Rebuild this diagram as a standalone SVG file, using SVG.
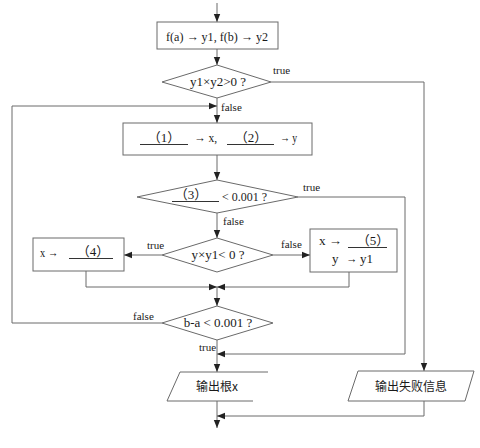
<svg xmlns="http://www.w3.org/2000/svg" width="480" height="448" viewBox="0 0 480 448">
<style>
.s{fill:none;stroke:#6a6a6a;stroke-width:1}
.n{fill:#fff;stroke:#6a6a6a;stroke-width:1}
.t{font-family:"Liberation Serif","Noto Sans CJK SC",serif;font-size:13px;fill:#1a1a1a}
.l{font-family:"Liberation Serif",serif;font-size:11px;fill:#1a1a1a}
.c{font-family:"Noto Sans CJK SC",sans-serif;font-size:12px;fill:#1a1a1a}
.u{stroke:#333;stroke-width:1}
</style>
<defs>
<marker id="a" markerUnits="userSpaceOnUse" markerWidth="8" markerHeight="8" viewBox="0 0 8 8" refX="8" refY="4" orient="auto">
<path d="M0,0.8 L8,4 L0,7.2 Z" fill="#222"/>
</marker>
</defs>
<rect width="480" height="448" fill="#fff"/>
<g id="connectors">
<path class="s" d="M217,3 V22" marker-end="url(#a)"/>
<path class="s" d="M217,49 V65" marker-end="url(#a)"/>
<path class="s" d="M271,82 H424 V371" marker-end="url(#a)"/>
<path class="s" d="M217,98 V123" marker-end="url(#a)"/>
<path class="s" d="M162,323 H12 V106 H217" marker-end="url(#a)"/>
<path class="s" d="M217,155 V180" marker-end="url(#a)"/>
<path class="s" d="M298,197 H405 V354 H217" marker-end="url(#a)"/>
<path class="s" d="M217,213 V238" marker-end="url(#a)"/>
<path class="s" d="M162,255 H124" marker-end="url(#a)"/>
<path class="s" d="M273,255 H310" marker-end="url(#a)"/>
<path class="s" d="M86,271 V287 H217" marker-end="url(#a)"/>
<path class="s" d="M349,272 V287 H217" marker-end="url(#a)"/>
<path class="s" d="M217,287 V306" marker-end="url(#a)"/>
<path class="s" d="M217,340 V372" marker-end="url(#a)"/>
<path class="s" d="M217,401 V428" marker-end="url(#a)"/>
<path class="s" d="M424,401 V416 H217" marker-end="url(#a)"/>
<text class="l" x="273" y="74">true</text>
<text class="l" x="221" y="111">false</text>
<text class="l" x="303" y="191">true</text>
<text class="l" x="223" y="225">false</text>
<text class="l" x="147" y="249">true</text>
<text class="l" x="281" y="248">false</text>
<text class="l" x="133" y="320">false</text>
<text class="l" x="199" y="351">true</text>
</g>
<g id="init">
<rect class="n" x="157" y="22" width="121" height="27"/>
<text class="t" x="166" y="41" textLength="102" lengthAdjust="spacingAndGlyphs">f(a) → y1,  f(b) → y2</text>
</g>
<g id="check1">
<polygon class="n" points="217,65 271,82 217,98 162,82"/>
<text class="t" x="218" y="86" text-anchor="middle">y1×y2&gt;0 ?</text>
</g>
<g id="assign">
<rect class="n" x="123" y="123" width="189" height="32"/>
<text class="t" x="164" y="142" text-anchor="middle">（1）</text>
<line class="u" x1="140" y1="144.5" x2="188" y2="144.5"/>
<text class="t" x="194" y="142" textLength="23" lengthAdjust="spacingAndGlyphs">→ x,</text>
<text class="t" x="251" y="142" text-anchor="middle">（2）</text>
<line class="u" x1="227" y1="144.5" x2="274" y2="144.5"/>
<text class="t" x="280" y="142" textLength="17" lengthAdjust="spacingAndGlyphs">→ y</text>
</g>
<g id="check2">
<polygon class="n" points="217,180 298,197 217,213 137,197"/>
<text class="t" x="191" y="199" text-anchor="middle">（3）</text>
<line class="u" x1="172" y1="201.5" x2="219" y2="201.5"/>
<text class="t" x="222" y="201" textLength="45" lengthAdjust="spacingAndGlyphs">&lt; 0.001 ?</text>
</g>
<g id="check3">
<polygon class="n" points="217,238 273,255 217,272 162,255"/>
<text class="t" x="218" y="259" text-anchor="middle">y×y1&lt; 0 ?</text>
</g>
<g id="box4">
<rect class="n" x="33" y="238" width="91" height="33"/>
<text class="t" x="40" y="257" textLength="18" lengthAdjust="spacingAndGlyphs">x →</text>
<text class="t" x="93" y="256" text-anchor="middle">（4）</text>
<line class="u" x1="69" y1="258.5" x2="113" y2="258.5"/>
</g>
<g id="box5">
<rect class="n" x="310" y="229" width="87" height="43"/>
<text class="t" x="319" y="245" textLength="23" lengthAdjust="spacingAndGlyphs">x →</text>
<text class="t" x="373" y="245" text-anchor="middle">（5）</text>
<line class="u" x1="348" y1="247.5" x2="387" y2="247.5"/>
<text class="t" x="332" y="263">y</text>
<text class="t" x="346" y="263" textLength="11" lengthAdjust="spacingAndGlyphs">→</text>
<text class="t" x="360" y="263">y1</text>
</g>
<g id="check4">
<polygon class="n" points="217,306 273,323 217,340 162,323"/>
<text class="t" x="218" y="327" text-anchor="middle">b-a &lt; 0.001 ?</text>
</g>
<g id="out-root">
<path class="n" d="M268,372 H180 L167,401 H253"/>
<text class="c" x="217" y="391" text-anchor="middle">输出根x</text>
</g>
<g id="out-fail">
<polygon class="n" points="358,371 474,371 465,401 348,401"/>
<text class="c" x="411" y="391" text-anchor="middle">输出失败信息</text>
</g>
</svg>
